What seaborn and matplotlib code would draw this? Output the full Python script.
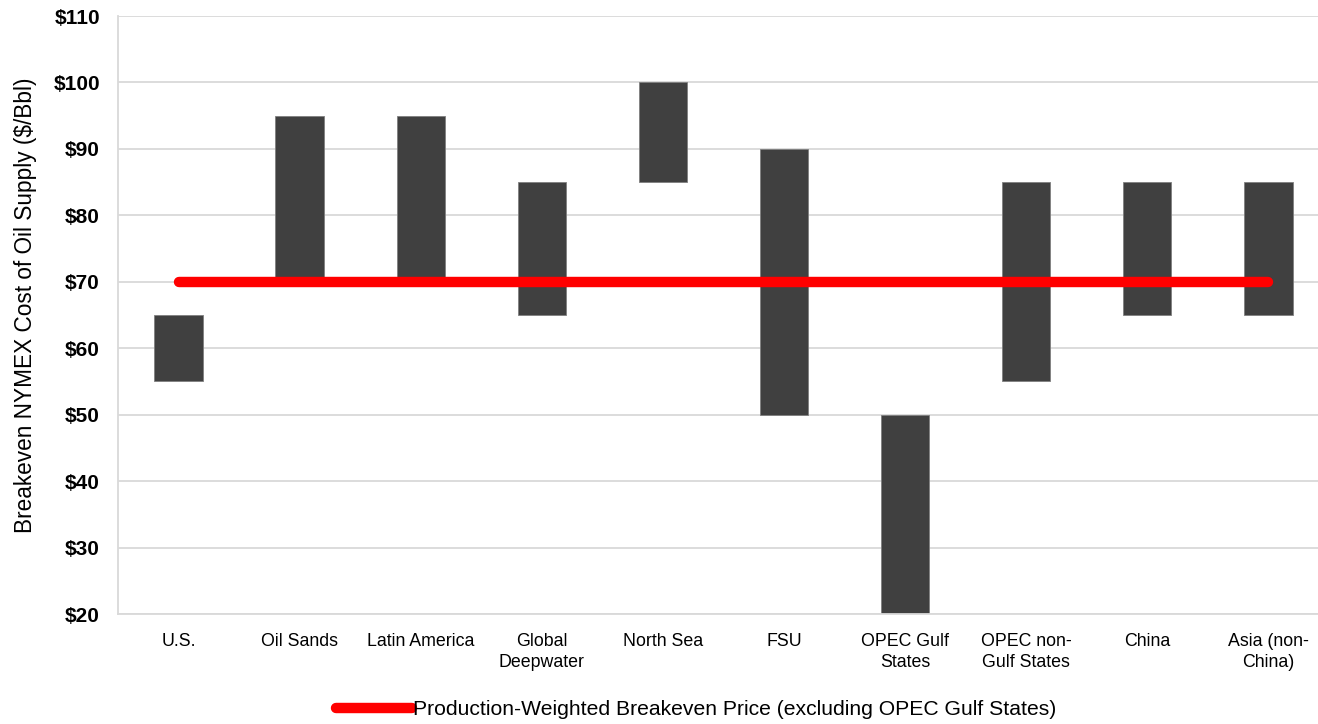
import matplotlib
matplotlib.use("Agg")
import matplotlib.pyplot as plt
import numpy as np
import pandas as pd
import seaborn as sns

regions = ["U.S.", "Oil Sands", "Latin America", "Global\nDeepwater", "North Sea",
           "FSU", "OPEC Gulf\nStates", "OPEC non-\nGulf States", "China", "Asia (non-\nChina)"]
low_cost = [55, 70, 70, 65, 85, 50, 20, 55, 65, 65]
high_cost = [65, 95, 95, 85, 100, 90, 50, 85, 85, 85]
weighted_breakeven = 70
y_ticks = [20, 30, 40, 50, 60, 70, 80, 90, 100, 110]

sns.set_theme(style="white")
plt.rcParams["font.family"] = ["Liberation Sans", "DejaVu Sans"]
plt.rcParams["text.color"] = "black"
plt.rcParams["xtick.color"] = "black"
plt.rcParams["ytick.color"] = "black"
plt.rcParams["axes.labelcolor"] = "black"

df = pd.DataFrame({
    "region": regions,
    "low": low_cost,
    "span": np.array(high_cost) - np.array(low_cost),
})

fig = plt.figure(figsize=(13.18, 7.24), dpi=100)
ax = fig.add_axes([118 / 1318, 1 - 614 / 724, 1 - 118 / 1318, (614 - 16) / 724])

sns.barplot(data=df, x="region", y="span", bottom=df["low"].values, order=regions,
            color="#404040", saturation=1, width=0.40, errorbar=None, ax=ax,
            edgecolor="#7f7f7f", linewidth=0.6, zorder=2)

pos = np.arange(len(regions))
sns.lineplot(x=pos, y=[weighted_breakeven] * len(regions), color="#ff0000",
             linewidth=7.5, solid_capstyle="round", ax=ax, zorder=3,
             label="Production-Weighted Breakeven Price (excluding OPEC Gulf States)")

ax.set_ylim(20, 110)
ax.set_xlim(-0.5, 9.41)
ax.set_yticks(y_ticks)
ax.set_yticklabels([f"${v}" for v in y_ticks], fontsize=15, fontweight="bold")
ax.set_xticks(pos)
ax.set_xticklabels(regions, fontsize=12.8, linespacing=1.3)
ax.tick_params(axis="x", length=0, pad=14)
ax.tick_params(axis="y", length=0, pad=13)
ax.yaxis.grid(True, color="#d9d9d9", linewidth=1.3, zorder=0)
ax.set_axisbelow(True)
for side in ["top", "right"]:
    ax.spines[side].set_visible(False)
for side in ["left", "bottom"]:
    ax.spines[side].set_color("#d9d9d9")
    ax.spines[side].set_linewidth(1.3)

ax.set_xlabel("")
ax.set_ylabel("Breakeven NYMEX Cost of Oil Supply ($/Bbl)", fontsize=16.3)
ax.yaxis.set_label_coords(-0.0675, 0.517)

leg = ax.legend(loc="center", bbox_to_anchor=(0.482, -0.16), frameon=False,
                handlelength=3.6, handletextpad=0.05,
                prop={"size": 15.2})

fig.savefig("out.png", dpi=100)
